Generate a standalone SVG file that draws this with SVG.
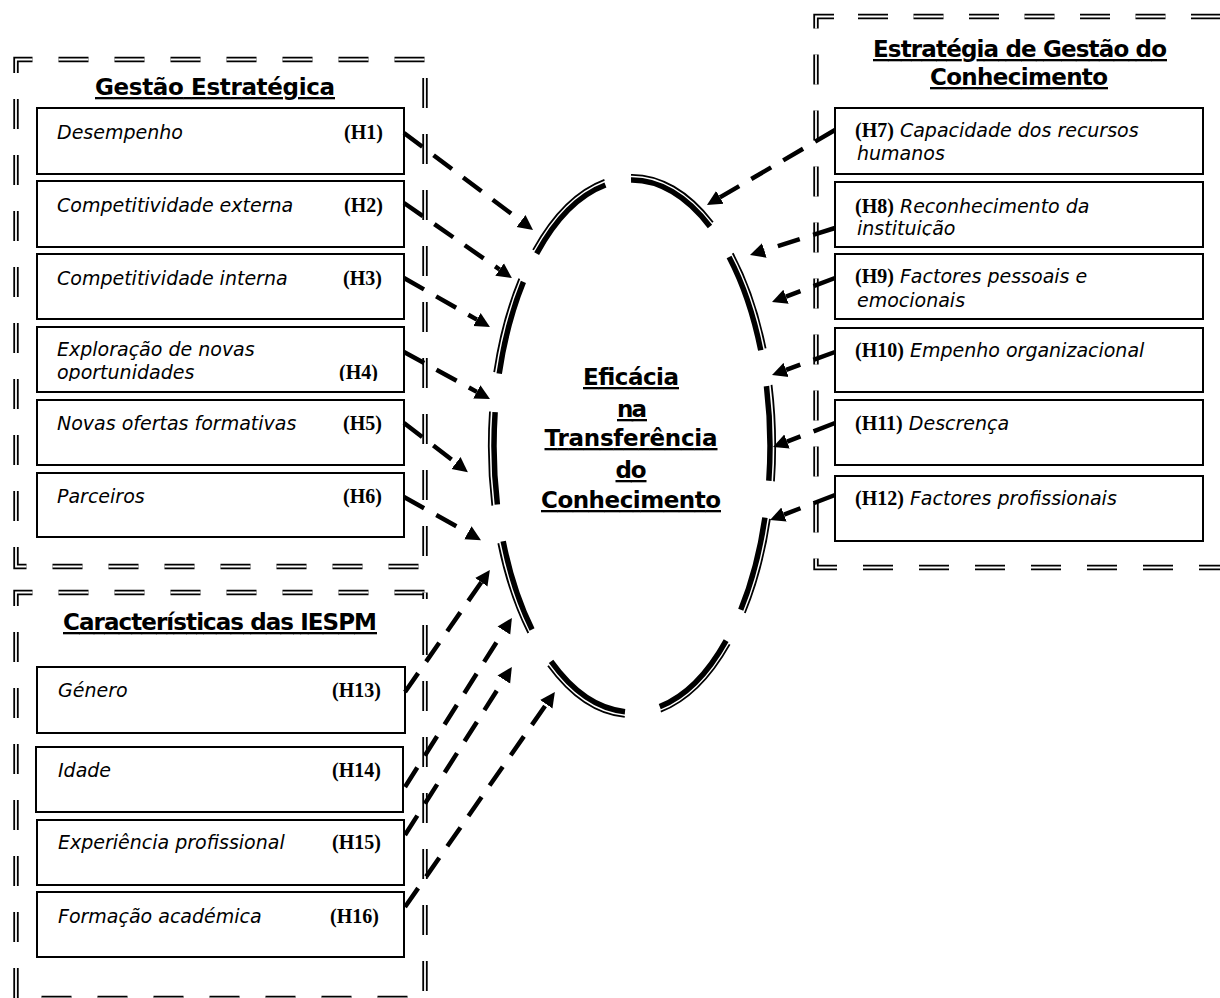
<svg xmlns="http://www.w3.org/2000/svg" width="1220" height="998" viewBox="0 0 1220 998">
  <defs>
    <style>
      .bk{fill:none;stroke:#000;stroke-width:5.4}
      .wh{fill:none;stroke:#fff;stroke-width:1.8}
      .box{fill:#fff;stroke:#000;stroke-width:2}
      .it{font-family:"DejaVu Sans","Noto Sans",sans-serif;font-style:italic;font-size:19px;fill:#000}
      .hb{font-family:"Liberation Serif","Times New Roman",serif;font-style:normal;font-weight:bold;font-size:20px;fill:#000}
      .hr{text-anchor:end}
      .tt{font-family:"DejaVu Sans","Noto Sans",sans-serif;font-weight:bold;font-size:23px;text-decoration:underline;text-anchor:middle;fill:#000}
      .ethk{fill:none;stroke:#000;stroke-width:5.5}
      .ethn{fill:none;stroke:#000;stroke-width:1.8}
      .arr{fill:none;stroke:#000;stroke-width:4.5;stroke-dasharray:23 14;marker-end:url(#ah)}
    </style>
    <marker id="ah" viewBox="0 -8 16 16" refX="0" refY="0" markerWidth="16" markerHeight="16" markerUnits="userSpaceOnUse" orient="auto">
      <path d="M0,-7.5 L15,0 L0,7.5 Z" fill="#000"/>
    </marker>
    <!-- dashed outline of the outcome ellipse, on the unit circle -->
    <path id="eArcs" vector-effect="non-scaling-stroke" d="M-0.6909,-0.7230 A1,1 0 0 1 -0.1925,-0.9813
      M-0.0070,-1 A1,1 0 0 1 0.5650,-0.8251
      M0.7034,-0.7108 A1,1 0 0 1 0.9330,-0.3600
      M0.9744,-0.2250 A1,1 0 0 1 0.9914,0.1305
      M0.9632,0.2689 A1,1 0 0 1 0.7880,0.6157
      M0.6820,0.7314 A1,1 0 0 1 0.2011,0.9796
      M-0.0506,0.9987 A1,1 0 0 1 -0.5864,0.8100
      M-0.7242,0.6896 A1,1 0 0 1 -0.9336,0.3584
      M-0.9755,0.2198 A1,1 0 0 1 -0.9919,-0.1271
      M-0.9622,-0.2723 A1,1 0 0 1 -0.7869,-0.6170"/>
    <!-- double dashed frame edges -->
    <path id="aL" d="M32.5,59.5 H16 V566.5 H425" stroke-dasharray="30 26"/>
    <path id="aT" d="M58.5,59.5 H425" stroke-dasharray="30 26"/>
    <path id="aR" d="M425,59.5 V566.5" stroke-dasharray="30 26" stroke-dashoffset="37.5"/>
    <path id="bL" d="M32.5,592.5 H16 V998.5 H425" stroke-dasharray="30 26"/>
    <path id="bT" d="M58.5,592.5 H425" stroke-dasharray="30 26"/>
    <path id="bR" d="M425,592.5 V998.5" stroke-dasharray="30 26" stroke-dashoffset="23.5"/>
    <path id="cL" d="M834,16.5 H816 V567.5 H1240" stroke-dasharray="30 26"/>
    <path id="cT" d="M858,16.5 H1240" stroke-dasharray="30 25.5"/>
    <clipPath id="clip4"><rect x="37" y="327" width="367" height="54"/></clipPath>
    <clipPath id="clip8"><rect x="835" y="182" width="368" height="54"/></clipPath>
  </defs>

  <rect x="0" y="0" width="1220" height="998" fill="#fff"/>

  <!-- frame: Gestão Estratégica -->
  <g id="frame-gestao">
    <use href="#aL" class="bk"/><use href="#aL" class="wh"/>
    <use href="#aT" class="bk"/><use href="#aT" class="wh"/>
    <use href="#aR" class="bk"/><use href="#aR" class="wh"/>
    <text class="tt" x="215" y="95" textLength="240">Gestão Estratégica</text>
  </g>

  <!-- frame: Características das IESPM -->
  <g id="frame-caracteristicas">
    <use href="#bL" class="bk"/><use href="#bL" class="wh"/>
    <use href="#bT" class="bk"/><use href="#bT" class="wh"/>
    <use href="#bR" class="bk"/><use href="#bR" class="wh"/>
    <text class="tt" x="220" y="630" textLength="314">Características das IESPM</text>
  </g>

  <!-- frame: Estratégia de Gestão do Conhecimento -->
  <g id="frame-estrategia">
    <use href="#cL" class="bk"/><use href="#cL" class="wh"/>
    <use href="#cT" class="bk"/><use href="#cT" class="wh"/>
    <text class="tt" x="1020" y="57" textLength="294">Estratégia de Gestão do</text>
    <text class="tt" x="1019" y="85" textLength="178">Conhecimento</text>
  </g>

  <!-- central outcome: dashed double ellipse (thick inside, thin outside) -->
  <g id="eficacia">
    <use href="#eArcs" class="ethk" transform="translate(632 446) scale(138 266)"/>
    <use href="#eArcs" class="ethn" transform="translate(632 446) scale(143.2 271.2)"/>
    <text class="tt" x="631" y="385" textLength="96">Eficácia</text>
    <text class="tt" x="632" y="417" textLength="30">na</text>
    <text class="tt" x="631" y="446" textLength="173">Transferência</text>
    <text class="tt" x="631" y="478" textLength="31">do</text>
    <text class="tt" x="631" y="508" textLength="180">Conhecimento</text>
  </g>

  <!-- Gestão Estratégica items -->
  <g id="h1">
    <rect class="box" x="37" y="108" width="367" height="66"/>
    <text class="it" x="57" y="139">Desempenho</text>
    <text class="hb hr" x="383" y="139">(H1)</text>
  </g>
  <g id="h2">
    <rect class="box" x="37" y="181" width="367" height="66"/>
    <text class="it" x="57" y="212">Competitividade externa</text>
    <text class="hb hr" x="383" y="212">(H2)</text>
  </g>
  <g id="h3">
    <rect class="box" x="37" y="254" width="367" height="65"/>
    <text class="it" x="57" y="285">Competitividade interna</text>
    <text class="hb hr" x="382" y="285">(H3)</text>
  </g>
  <g id="h4">
    <rect class="box" x="37" y="327" width="367" height="65"/>
    <g clip-path="url(#clip4)">
      <text class="it" x="57" y="355.5">Exploração de novas</text>
      <text class="it" x="57" y="379">oportunidades</text>
      <text class="hb hr" x="378" y="379">(H4)</text>
    </g>
  </g>
  <g id="h5">
    <rect class="box" x="37" y="400" width="367" height="65"/>
    <text class="it" x="57" y="430">Novas ofertas formativas</text>
    <text class="hb hr" x="382" y="430">(H5)</text>
  </g>
  <g id="h6">
    <rect class="box" x="37" y="473" width="367" height="64"/>
    <text class="it" x="57" y="503">Parceiros</text>
    <text class="hb hr" x="382" y="503">(H6)</text>
  </g>

  <!-- Características das IESPM items -->
  <g id="h13">
    <rect class="box" x="37" y="667" width="368" height="66"/>
    <text class="it" x="58" y="697">Género</text>
    <text class="hb hr" x="381" y="697">(H13)</text>
  </g>
  <g id="h14">
    <rect class="box" x="36" y="747" width="367" height="65"/>
    <text class="it" x="58" y="777">Idade</text>
    <text class="hb hr" x="381" y="777">(H14)</text>
  </g>
  <g id="h15">
    <rect class="box" x="37" y="820" width="367" height="65"/>
    <text class="it" x="58" y="849">Experiência profissional</text>
    <text class="hb hr" x="381" y="849">(H15)</text>
  </g>
  <g id="h16">
    <rect class="box" x="37" y="892" width="367" height="65"/>
    <text class="it" x="58" y="923">Formação académica</text>
    <text class="hb hr" x="379" y="923">(H16)</text>
  </g>

  <!-- Estratégia de Gestão do Conhecimento items -->
  <g id="h7">
    <rect class="box" x="835" y="108" width="368" height="66"/>
    <text class="it" x="855" y="137"><tspan class="hb">(H7)</tspan> Capacidade dos recursos</text>
    <text class="it" x="857" y="160">humanos</text>
  </g>
  <g id="h8">
    <rect class="box" x="835" y="182" width="368" height="65"/>
    <text class="it" x="855" y="213"><tspan class="hb">(H8)</tspan> Reconhecimento da</text>
    <g clip-path="url(#clip8)">
      <text class="it" x="857" y="235">instituição</text>
    </g>
  </g>
  <g id="h9">
    <rect class="box" x="835" y="254" width="368" height="65"/>
    <text class="it" x="855" y="283"><tspan class="hb">(H9)</tspan> Factores pessoais e</text>
    <text class="it" x="857" y="307">emocionais</text>
  </g>
  <g id="h10">
    <rect class="box" x="835" y="328" width="368" height="64"/>
    <text class="it" x="855" y="357"><tspan class="hb">(H10)</tspan> Empenho organizacional</text>
  </g>
  <g id="h11">
    <rect class="box" x="835" y="400" width="368" height="65"/>
    <text class="it" x="855" y="430"><tspan class="hb">(H11)</tspan> Descrença</text>
  </g>
  <g id="h12">
    <rect class="box" x="835" y="476" width="368" height="65"/>
    <text class="it" x="855" y="505"><tspan class="hb">(H12)</tspan> Factores profissionais</text>
  </g>

  <!-- hypothesis connectors -->
  <g id="connectors">
    <path class="arr" d="M404,133 L521,221"/>
    <path class="arr" d="M404,203 L499.6,269.5"/>
    <path class="arr" d="M404,278 L476.9,319.6"/>
    <path class="arr" d="M404,352 L476.8,391.9"/>
    <path class="arr" d="M404,423 L456,463"/>
    <path class="arr" d="M404,497 L467.9,532.8"/>
    <path class="arr" d="M835,130 L719.9,197.4"/>
    <path class="arr" d="M835,228 L764.3,250.5"/>
    <path class="arr" d="M835,278 L786,296.7"/>
    <path class="arr" d="M835,352 L786.1,369.9"/>
    <path class="arr" d="M835,423 L787,441.6"/>
    <path class="arr" d="M835,495 L784,514.6"/>
    <path class="arr" d="M405,692 L481.3,582.2"/>
    <path class="arr" d="M405,787 L503.9,630.6"/>
    <path class="arr" d="M405,835 L503.8,679.6"/>
    <path class="arr" d="M405,907 L546.3,704.2"/>
  </g>
</svg>
